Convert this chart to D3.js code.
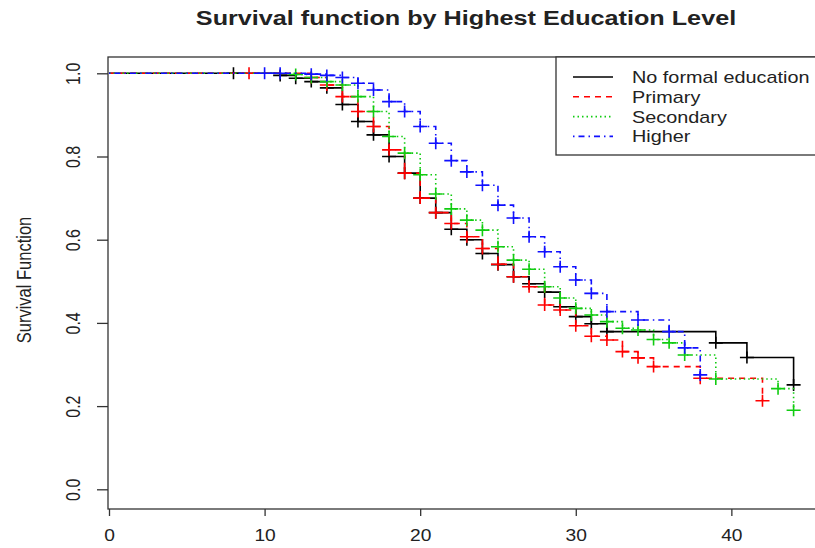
<!DOCTYPE html>
<html>
<head>
<meta charset="utf-8">
<script src="https://cdn.jsdelivr.net/npm/d3@7"></script>
<style>
  body { margin: 0; background: #fff; }
  text { font-family: "Liberation Sans", Arial, sans-serif; fill: #222; }
</style>
</head>
<body>
<script>
// tick labels
var xTicks = [0, 10, 20, 30, 40];
var yTicks = [0, 0.2, 0.4, 0.6, 0.8, 1.0];

// groups, in legend order
var groups = ["No formal education", "Primary", "Secondary", "Higher"];

// survival after each time point (every point carries a censor mark)
var noneTime = [8, 11, 12, 13, 14, 15, 16, 17, 18, 19, 20, 21, 22, 23, 24, 25, 26, 27, 28, 29, 30, 31, 32, 39, 41, 44];
var noneSurv = [1.0, 0.995, 0.988, 0.98, 0.965, 0.925, 0.884, 0.852, 0.80, 0.76, 0.70, 0.665, 0.625, 0.60, 0.567, 0.54, 0.511, 0.494, 0.474, 0.439, 0.415, 0.398, 0.379, 0.352, 0.317, 0.251];

var primTime = [9, 13, 14, 15, 16, 17, 18, 19, 20, 21, 22, 23, 24, 25, 26, 27, 28, 29, 30, 31, 32, 33, 34, 35, 38, 42];
var primSurv = [1.0, 0.99, 0.972, 0.944, 0.908, 0.872, 0.816, 0.76, 0.70, 0.665, 0.639, 0.607, 0.579, 0.541, 0.511, 0.487, 0.443, 0.431, 0.393, 0.368, 0.359, 0.331, 0.316, 0.295, 0.267, 0.213];

var secTime = [12, 13, 14, 15, 16, 17, 18, 19, 20, 21, 22, 23, 24, 25, 26, 27, 28, 29, 30, 31, 32, 33, 34, 35, 36, 37, 39, 43, 44];
var secSurv = [0.997, 0.99, 0.98, 0.972, 0.944, 0.908, 0.848, 0.808, 0.756, 0.71, 0.674, 0.647, 0.623, 0.583, 0.551, 0.529, 0.487, 0.46, 0.435, 0.419, 0.403, 0.387, 0.383, 0.36, 0.352, 0.323, 0.265, 0.242, 0.19];

var highTime = [10, 11, 13, 14, 15, 16, 17, 18, 19, 20, 21, 22, 23, 24, 25, 26, 27, 28, 29, 30, 31, 32, 34, 36, 37, 38];
var highSurv = [1.0, 1.0, 0.998, 0.995, 0.99, 0.976, 0.96, 0.932, 0.908, 0.872, 0.832, 0.79, 0.763, 0.731, 0.683, 0.652, 0.607, 0.571, 0.535, 0.503, 0.471, 0.427, 0.407, 0.379, 0.34, 0.275];

// line styles (R: lty 1..4)
var colors = ["#000000", "#ff0000", "#11cc11", "#1010ff"];
var dashes = [null, "6,5", "1.5,3", "1.5,4,6,4"];

var width = 815, height = 548;
var box = {left: 108, top: 57, right: 822, bottom: 509};

var svg = d3.select("body").append("svg")
    .attr("width", width)
    .attr("height", height);

var x = d3.scaleLinear().domain([0, 44]).range([109, 793.6]);
var y = d3.scaleLinear().domain([0, 1]).range([489.3, 73.3]);

var series = [
  {name: groups[0], time: noneTime, surv: noneSurv},
  {name: groups[1], time: primTime, surv: primSurv},
  {name: groups[2], time: secTime, surv: secSurv},
  {name: groups[3], time: highTime, surv: highSurv}
].map(function(s) {
  return {
    name: s.name,
    points: [{t: 0, s: 1, mark: false}].concat(s.time.map(function(t, i) {
      return {t: t, s: s.surv[i], mark: true};
    }))
  };
});

// title, horizontally stretched like the source image
svg.append("text")
    .attr("transform", "translate(466,25) scale(1.2,1)")
    .attr("text-anchor", "middle")
    .style("font-size", "21px")
    .style("font-weight", "bold")
    .text("Survival function by Highest Education Level");

// y axis
var yAxis = svg.append("g")
    .attr("transform", "translate(" + box.left + ",0)")
    .call(d3.axisLeft(y).tickValues(yTicks).tickSize(11).tickSizeOuter(0).tickFormat(d3.format(".1f")));
yAxis.select(".domain").remove();
yAxis.selectAll("line").attr("stroke", "#333").attr("stroke-width", 1.3);
yAxis.selectAll("text")
    .attr("x", null).attr("dy", null)
    .attr("text-anchor", "middle")
    .attr("transform", "translate(-28,0) scale(1.22,1) rotate(-90)")
    .style("font-size", "16px")
    .attr("fill", "#222");

// x axis
var xAxis = svg.append("g")
    .attr("transform", "translate(0," + box.bottom + ")")
    .call(d3.axisBottom(x).tickValues(xTicks).tickSize(7).tickSizeOuter(0).tickFormat(d3.format("d")));
xAxis.select(".domain").remove();
xAxis.selectAll("line").attr("stroke", "#333").attr("stroke-width", 1.3);
xAxis.selectAll("text")
    .attr("y", null).attr("dy", null)
    .attr("transform", "translate(0,32) scale(1.2,1)")
    .style("font-size", "16px")
    .attr("fill", "#222");

// y axis title
svg.append("text")
    .attr("transform", "translate(31,280) scale(1.22,1) rotate(-90)")
    .attr("text-anchor", "middle")
    .style("font-size", "16.5px")
    .text("Survival Function");

// plot box
svg.append("rect")
    .attr("x", box.left)
    .attr("y", box.top)
    .attr("width", box.right - box.left)
    .attr("height", box.bottom - box.top)
    .attr("fill", "none")
    .attr("stroke", "#333")
    .attr("stroke-width", 1.3);

var line = d3.line()
    .curve(d3.curveStepAfter)
    .x(function(d) { return x(d.t); })
    .y(function(d) { return y(d.s); });

var curves = svg.selectAll(".curve")
    .data(series)
    .enter().append("g")
    .attr("class", "curve");

curves.append("path")
    .attr("d", function(d) { return line(d.points); })
    .attr("fill", "none")
    .attr("stroke", function(d, i) { return colors[i]; })
    .attr("stroke-width", 1.6)
    .attr("stroke-dasharray", function(d, i) { return dashes[i]; });

// censor marks "+"
curves.each(function(d, i) {
  d3.select(this).selectAll(".mark")
      .data(d.points.filter(function(p) { return p.mark; }))
      .enter().append("path")
      .attr("class", "mark")
      .attr("d", function(p) {
        var cx = x(p.t), cy = y(p.s);
        return "M" + (cx - 7) + "," + cy + "H" + (cx + 7) + "M" + cx + "," + (cy - 6) + "V" + (cy + 6);
      })
      .attr("stroke", colors[i])
      .attr("stroke-width", 1.6);
});

// legend
var legend = svg.append("g");
legend.append("rect")
    .attr("x", 556).attr("y", box.top)
    .attr("width", 264).attr("height", 98)
    .attr("fill", "#fff")
    .attr("stroke", "#333")
    .attr("stroke-width", 1.3);

var rows = legend.selectAll(".row")
    .data(groups)
    .enter().append("g")
    .attr("class", "row")
    .attr("transform", function(d, i) { return "translate(0," + (77 + i * 19.8) + ")"; });

rows.append("line")
    .attr("x1", 573).attr("x2", 613)
    .attr("stroke", function(d, i) { return colors[i]; })
    .attr("stroke-width", 1.6)
    .attr("stroke-dasharray", function(d, i) { return dashes[i]; });

rows.append("text")
    .attr("transform", "translate(632,6) scale(1.24,1)")
    .style("font-size", "16px")
    .text(function(d) { return d; });
</script>
</body>
</html>
